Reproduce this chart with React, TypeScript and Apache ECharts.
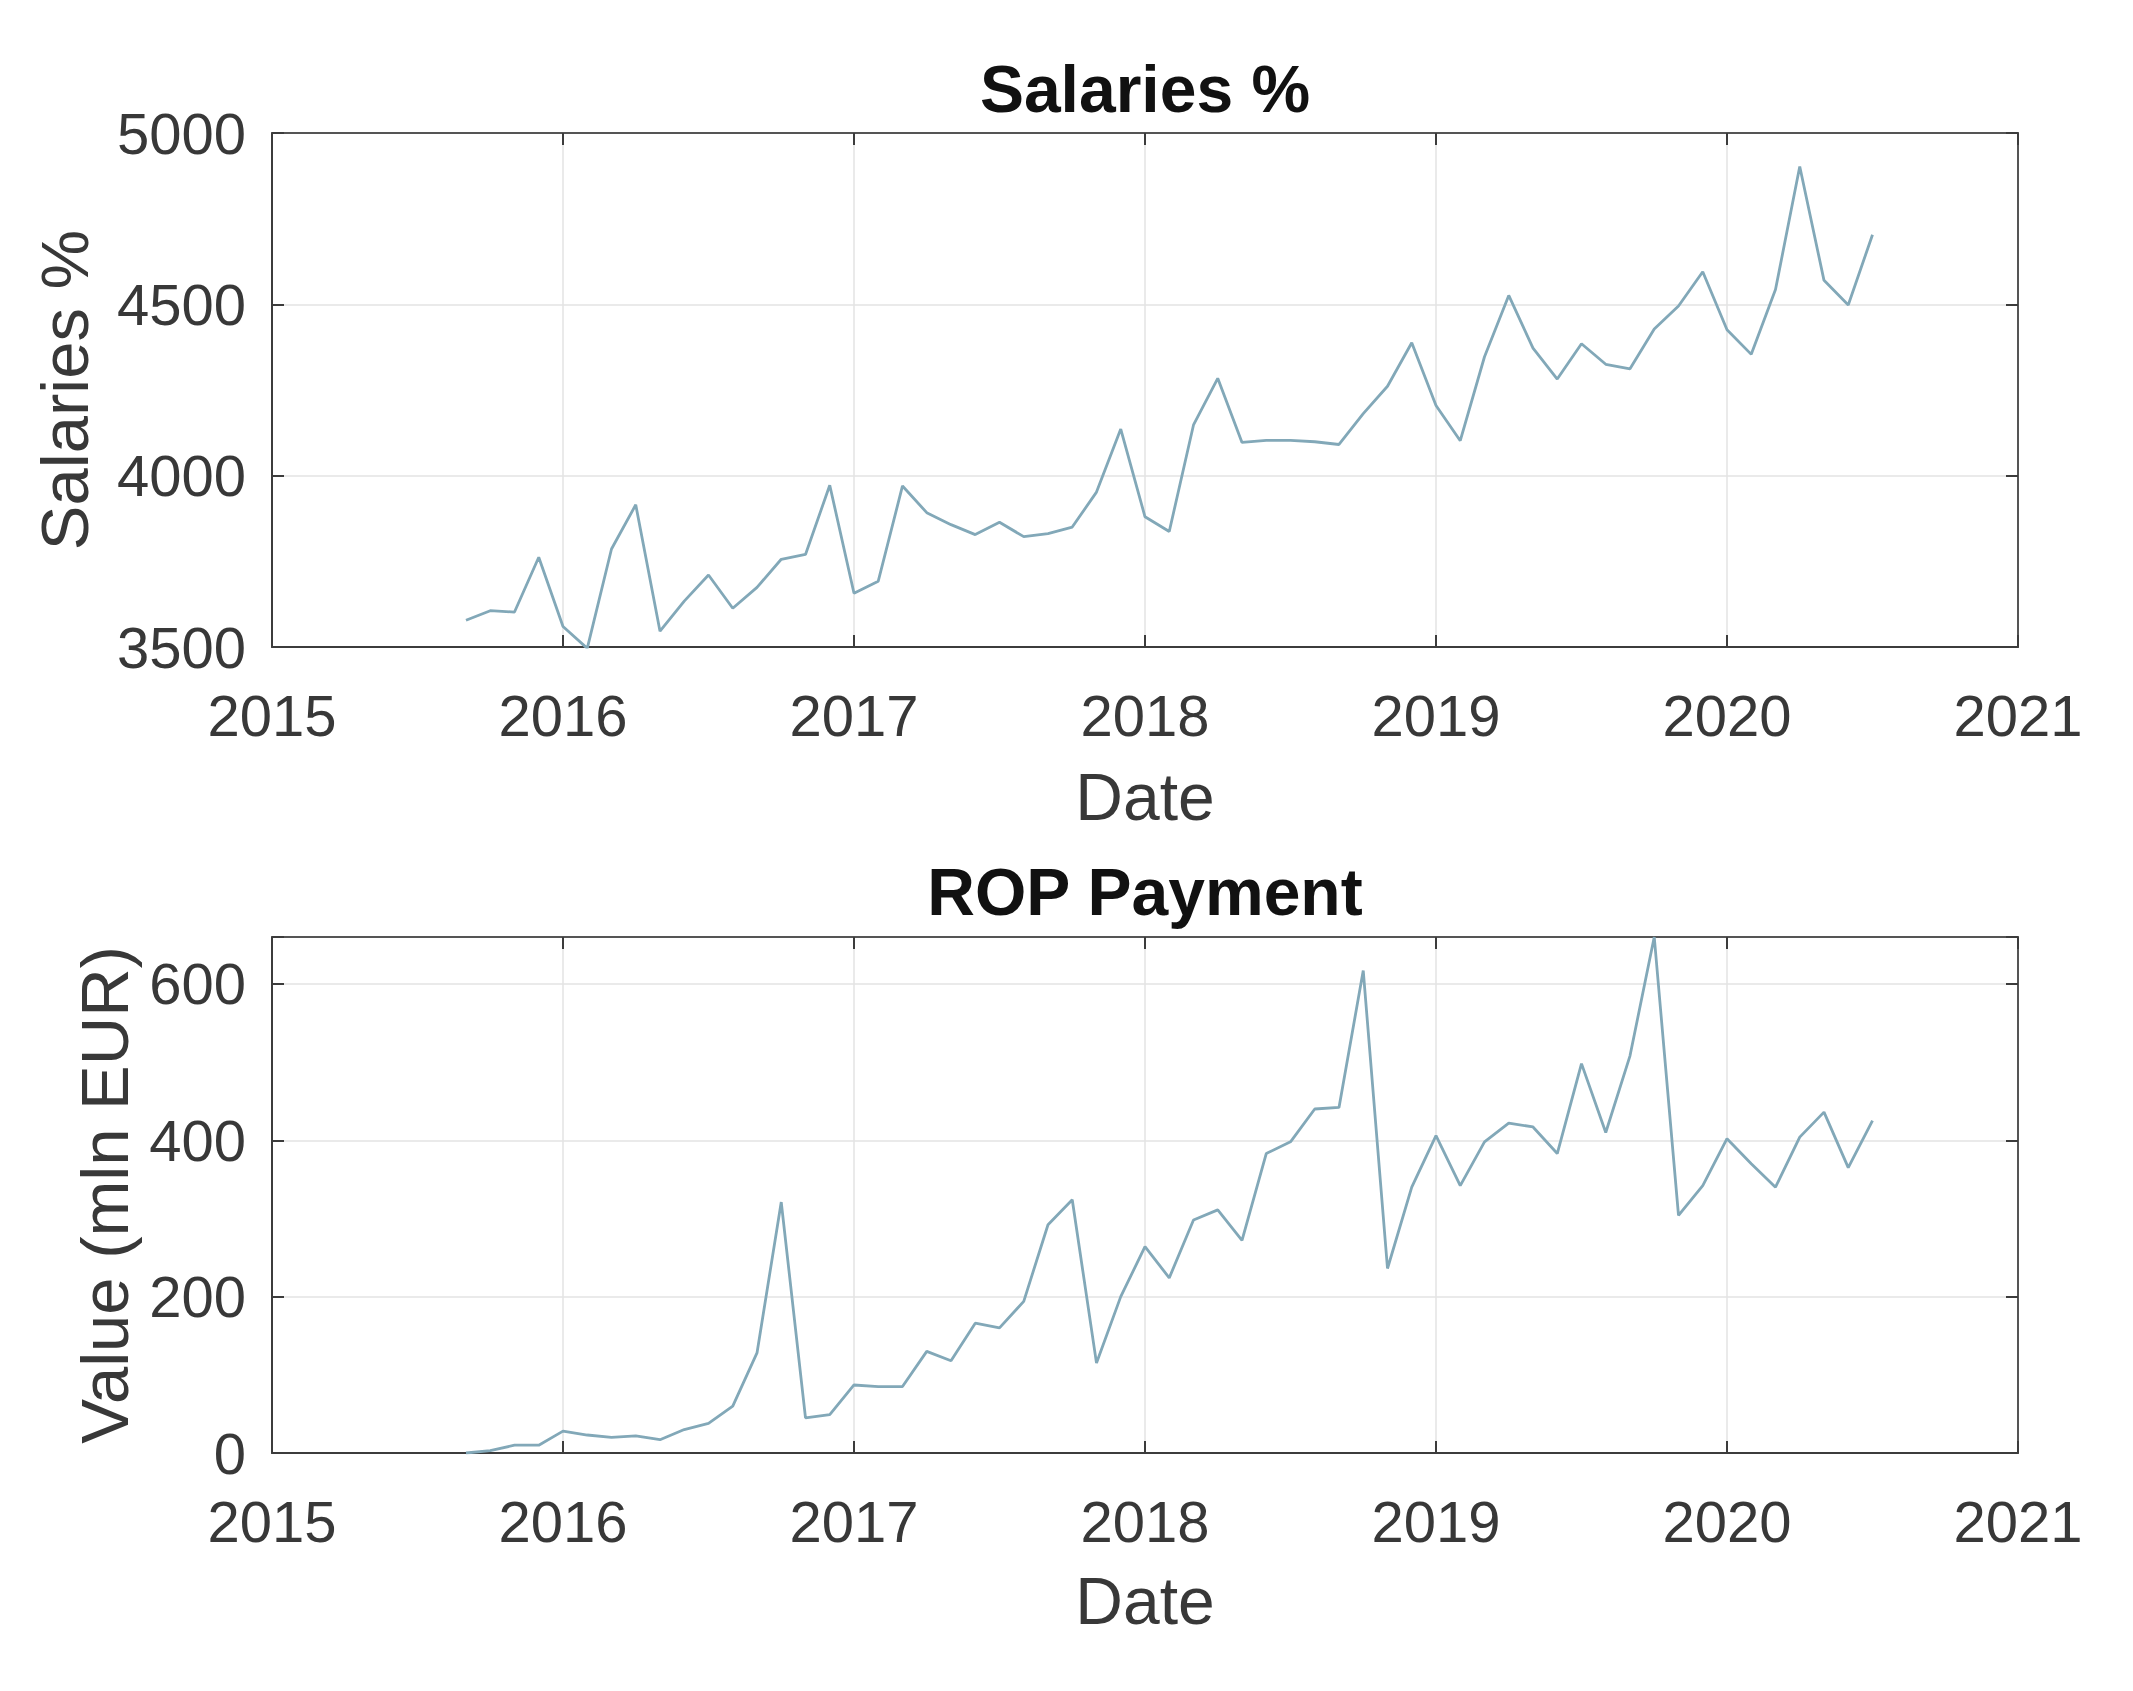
import React, { useEffect, useRef } from "react";
import * as echarts from "echarts";

// Monthly observations, Sep 2015 – Jul 2020
const MONTHS = [
  "2015-09", "2015-10", "2015-11", "2015-12",
  "2016-01", "2016-02", "2016-03", "2016-04", "2016-05", "2016-06",
  "2016-07", "2016-08", "2016-09", "2016-10", "2016-11", "2016-12",
  "2017-01", "2017-02", "2017-03", "2017-04", "2017-05", "2017-06",
  "2017-07", "2017-08", "2017-09", "2017-10", "2017-11", "2017-12",
  "2018-01", "2018-02", "2018-03", "2018-04", "2018-05", "2018-06",
  "2018-07", "2018-08", "2018-09", "2018-10", "2018-11", "2018-12",
  "2019-01", "2019-02", "2019-03", "2019-04", "2019-05", "2019-06",
  "2019-07", "2019-08", "2019-09", "2019-10", "2019-11", "2019-12",
  "2020-01", "2020-02", "2020-03", "2020-04", "2020-05", "2020-06",
  "2020-07",
];

const SALARIES = [
  3578, 3606, 3602, 3762,
  3560, 3496, 3786, 3915, 3546, 3634, 3710, 3613, 3674, 3756, 3770, 3972,
  3657, 3692, 3970, 3892, 3857, 3828, 3864, 3822, 3831, 3850, 3952, 4136,
  3880, 3837, 4148, 4284, 4097, 4103, 4103, 4099, 4091, 4181, 4261, 4388,
  4205, 4102, 4347, 4526, 4372, 4282, 4385, 4325, 4312, 4428, 4495, 4595,
  4426, 4354, 4543, 4902, 4570, 4498, 4703,
];

const ROP_PAYMENT = [
  0, 3, 10, 10,
  28, 23, 20, 22, 17, 30, 38, 60, 128, 321, 45, 49,
  87, 85, 85, 130, 118, 166, 160, 194, 292, 324, 115, 200,
  264, 224, 298, 311, 272, 383, 398, 440, 442, 617, 236, 340,
  406, 342, 398, 422, 417, 383, 498, 410, 508, 660, 304, 342,
  402, 370, 340, 404, 436, 365, 425,
];

const X_RANGE = [2015, 2021];
const SAL_RANGE = [3500, 5000];
const SAL_STEP = 500;
const ROP_RANGE = [0, 660];
const ROP_STEP = 200;

const TITLES = ["Salaries %", "ROP Payment"];
const Y_NAMES = ["Salaries %", "Value (mln EUR)"];
const X_NAME = "Date";

const toYear = (s: string) => {
  const [y, m] = s.split("-").map(Number);
  return y + (m - 1) / 12;
};

const FONT = "'Liberation Sans', Arial, Helvetica, sans-serif";
const TEXT_COLOR = "#383838";
const AXIS_COLOR = "#3c3c3c";
const GRID_COLOR = "#e3e3e3";
const LINE_COLOR = "#82a8b8";

const PLOT_LEFT = 272;
const PLOT_WIDTH = 1746;
const GRIDS = [
  { top: 133, height: 514 },
  { top: 937, height: 516 },
];

export default function App() {
  const ref = useRef<HTMLDivElement>(null);

  useEffect(() => {
    if (!ref.current) return;
    const chart = echarts.init(ref.current, undefined, { renderer: "svg" });

    const tickFont = { fontFamily: FONT, fontSize: 58, color: TEXT_COLOR };
    const yRanges = [SAL_RANGE, ROP_RANGE];
    const ySteps = [SAL_STEP, ROP_STEP];

    const xAxes: any[] = [];
    const yAxes: any[] = [];
    GRIDS.forEach((_, g) => {
      xAxes.push({
        type: "value",
        gridIndex: g,
        position: "bottom",
        min: X_RANGE[0],
        max: X_RANGE[1],
        interval: 1,
        axisLine: { show: true, onZero: false, lineStyle: { color: AXIS_COLOR, width: 2 } },
        axisTick: { show: true, inside: true, length: 12, lineStyle: { color: AXIS_COLOR, width: 2 } },
        axisLabel: { show: true, margin: 39, ...tickFont, formatter: (v: number) => String(v) },
        splitLine: { show: true, lineStyle: { color: GRID_COLOR, width: 1.5 } },
      });
      xAxes.push({
        type: "value",
        gridIndex: g,
        position: "top",
        min: X_RANGE[0],
        max: X_RANGE[1],
        interval: 1,
        axisLine: { show: true, onZero: false, lineStyle: { color: "#555555", width: 2 } },
        axisTick: { show: true, inside: true, length: 12, lineStyle: { color: AXIS_COLOR, width: 2 } },
        axisLabel: { show: false },
        splitLine: { show: false },
      });
      yAxes.push({
        type: "value",
        gridIndex: g,
        position: "left",
        min: yRanges[g][0],
        max: yRanges[g][1],
        interval: ySteps[g],
        axisLine: { show: true, onZero: false, lineStyle: { color: AXIS_COLOR, width: 2 } },
        axisTick: { show: true, inside: true, length: 12, lineStyle: { color: AXIS_COLOR, width: 2 } },
        axisLabel: {
          show: true,
          margin: 26,
          ...tickFont,
          formatter: (v: number) => (v % ySteps[g] === 0 ? String(v) : ""),
        },
        splitLine: { show: true, lineStyle: { color: GRID_COLOR, width: 1.5 } },
      });
      yAxes.push({
        type: "value",
        gridIndex: g,
        position: "right",
        min: yRanges[g][0],
        max: yRanges[g][1],
        interval: ySteps[g],
        axisLine: { show: true, onZero: false, lineStyle: { color: "#555555", width: 2 } },
        axisTick: { show: true, inside: true, length: 12, lineStyle: { color: AXIS_COLOR, width: 2 } },
        axisLabel: { show: false },
        splitLine: { show: false },
      });
    });

    const xs = MONTHS.map(toYear);
    const seriesData = [SALARIES, ROP_PAYMENT];

    const centerX = PLOT_LEFT + PLOT_WIDTH / 2;
    const graphics: any[] = [];
    const titleY = [89, 892];
    const dateY = [797, 1601];
    const yNameX = [64, 104];
    GRIDS.forEach((gr, g) => {
      graphics.push({
        type: "text",
        x: centerX,
        y: titleY[g],
        style: {
          text: TITLES[g],
          fontFamily: FONT,
          fontSize: 66,
          fontWeight: "bold",
          fill: "#111111",
          textAlign: "center",
          textVerticalAlign: "middle",
        },
      });
      graphics.push({
        type: "text",
        x: centerX,
        y: dateY[g],
        style: {
          text: X_NAME,
          fontFamily: FONT,
          fontSize: 66,
          fill: TEXT_COLOR,
          textAlign: "center",
          textVerticalAlign: "middle",
        },
      });
      graphics.push({
        type: "text",
        x: yNameX[g],
        y: gr.top + gr.height / 2,
        rotation: Math.PI / 2,
        style: {
          text: Y_NAMES[g],
          fontFamily: FONT,
          fontSize: 67,
          fill: TEXT_COLOR,
          textAlign: "center",
          textVerticalAlign: "middle",
        },
      });
    });

    chart.setOption({
      animation: false,
      backgroundColor: "#ffffff",
      grid: GRIDS.map((gr) => ({
        left: PLOT_LEFT,
        width: PLOT_WIDTH,
        top: gr.top,
        height: gr.height,
        containLabel: false,
      })),
      xAxis: xAxes,
      yAxis: yAxes,
      series: seriesData.map((vals, g) => ({
        type: "line",
        xAxisIndex: g * 2,
        yAxisIndex: g * 2,
        data: vals.map((v, i) => [xs[i], v]),
        showSymbol: false,
        symbol: "none",
        lineStyle: { color: LINE_COLOR, width: 2.8 },
        clip: true,
      })),
      graphic: graphics,
    });

    return () => chart.dispose();
  }, []);

  return (
    <div
      ref={ref}
      style={{ position: "absolute", left: 0, top: 0, width: 2133, height: 1691, background: "#fff" }}
    />
  );
}
